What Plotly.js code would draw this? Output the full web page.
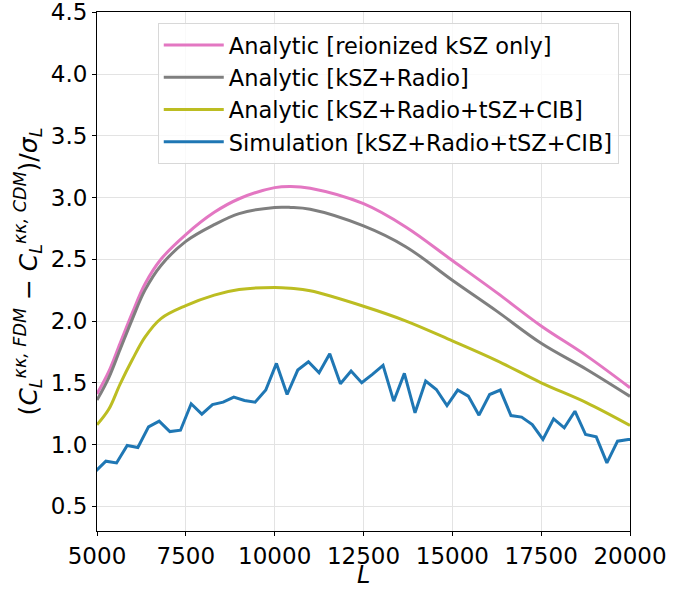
<!DOCTYPE html>
<html>
<head>
<meta charset="utf-8">
<script src="https://cdn.plot.ly/plotly-3.0.1.min.js"></script>
<style>html,body{margin:0;padding:0;background:#fff;}#chart{width:699px;height:589px;}</style>
</head>
<body>
<div id="chart"></div>
<script>
// Analytic curves
const analyticL = [5000, 5330, 5650, 6000, 6350, 6800, 7500, 8300, 9000, 10000, 10450, 11000, 12500, 13700, 15000, 16250, 17500, 18770, 20000];
const kszOnly   = [1.41, 1.59, 1.82, 2.07, 2.30, 2.50, 2.70, 2.88, 2.99, 3.08, 3.09, 3.075, 2.95, 2.76, 2.49, 2.23, 1.96, 1.72, 1.46];
const kszRadio  = [1.36, 1.54, 1.77, 2.02, 2.25, 2.45, 2.645, 2.78, 2.87, 2.92, 2.92, 2.905, 2.77, 2.60, 2.33, 2.08, 1.82, 1.61, 1.39];
const kszAll    = [1.16, 1.285, 1.49, 1.69, 1.87, 2.02, 2.125, 2.21, 2.255, 2.272, 2.265, 2.245, 2.12, 2.00, 1.84, 1.68, 1.50, 1.34, 1.155];

// Simulation points
const simL = [4950, 5250, 5550, 5850, 6150, 6450, 6750, 7050, 7350, 7650, 7950, 8250, 8550, 8850, 9150, 9450, 9750, 10050, 10350, 10650, 10950, 11250, 11550, 11850, 12150, 12450, 12750, 13050, 13350, 13650, 13950, 14250, 14550, 14850, 15150, 15450, 15750, 16050, 16350, 16650, 16950, 17250, 17550, 17850, 18150, 18450, 18750, 19050, 19350, 19650, 19950, 20250];
const simVals = [0.78, 0.865, 0.851, 0.992, 0.976, 1.143, 1.189, 1.105, 1.116, 1.330, 1.246, 1.324, 1.343, 1.384, 1.357, 1.343, 1.441, 1.657, 1.405, 1.603, 1.670, 1.581, 1.735, 1.492, 1.595, 1.500, 1.568, 1.641, 1.351, 1.576, 1.257, 1.514, 1.446, 1.316, 1.441, 1.392, 1.238, 1.405, 1.441, 1.235, 1.222, 1.162, 1.041, 1.208, 1.135, 1.270, 1.081, 1.062, 0.851, 1.027, 1.04, 1.05];

const names = ['Analytic [reionized kSZ only]', 'Analytic [kSZ+Radio]', 'Analytic [kSZ+Radio+tSZ+CIB]', 'Simulation [kSZ+Radio+tSZ+CIB]'];
const colors = ['#e377c2', '#7f7f7f', '#bcbd22', '#1f77b4'];

const traces = [
  {x: analyticL, y: kszOnly, name: names[0], line: {color: colors[0], width: 3, shape: 'spline', smoothing: 1}},
  {x: analyticL, y: kszRadio, name: names[1], line: {color: colors[1], width: 3, shape: 'spline', smoothing: 1}},
  {x: analyticL, y: kszAll, name: names[2], line: {color: colors[2], width: 3, shape: 'spline', smoothing: 1}},
  {x: simL, y: simVals, name: names[3], line: {color: colors[3], width: 3}}
].map(t => Object.assign({type: 'scatter', mode: 'lines'}, t));

const axisCommon = {
  showline: true, linecolor: '#000', linewidth: 1, mirror: true,
  showgrid: true, gridcolor: '#e3e3e3', gridwidth: 1,
  ticks: 'outside', ticklen: 4, tickwidth: 1, tickcolor: '#000',
  zeroline: false, automargin: false,
  ticklabeloverflow: 'allow',
  tickfont: {family: 'DejaVu Sans', size: 23, color: '#000'}
};

const layout = {
  width: 699, height: 589,
  margin: {l: 97, r: 69, t: 12, b: 58},
  paper_bgcolor: '#fff', plot_bgcolor: '#fff',
  font: {family: 'DejaVu Sans', color: '#000'},
  showlegend: true,
  legend: {
    x: 0.114, y: 0.979, xanchor: 'left', yanchor: 'top',
    bgcolor: 'rgba(255,255,255,0.8)', bordercolor: '#d8d8d8', borderwidth: 1,
    font: {family: 'DejaVu Sans', size: 22.5, color: '#000'},
    itemwidth: 60,
    tracegroupgap: 0
  },
  xaxis: Object.assign({}, axisCommon, {
    range: [5000, 20000],
    tickvals: [5000, 7500, 10000, 12500, 15000, 17500, 20000],
    ticktext: ['5000', '7500', '10000', '12500', '15000', '17500', '20000']
  }),
  yaxis: Object.assign({}, axisCommon, {
    range: [0.3, 4.502],
    tickvals: [0.5, 1.0, 1.5, 2.0, 2.5, 3.0, 3.5, 4.0, 4.5],
    ticktext: ['0.5', '1.0', '1.5', '2.0', '2.5', '3.0', '3.5', '4.0', '4.5'],
    title: {text: '(<i>C</i><sub><i>L</i></sub><sup><i>κκ, FDM</i></sup> − <i>C</i><sub><i>L</i></sub><sup><i>κκ, CDM</i></sup>)/<i>σ</i><sub><i>L</i></sub>', font: {family: 'DejaVu Sans', size: 25, color: '#000'}, standoff: 6}
  }),
  annotations: [{
    text: '<i>L</i>', xref: 'paper', yref: 'paper', x: 0.5, y: -0.1156,
    xanchor: 'center', yanchor: 'bottom', showarrow: false,
    font: {family: 'DejaVu Sans', size: 24, color: '#000'}
  }]
};

Plotly.newPlot('chart', traces, layout, {displayModeBar: false, staticPlot: true});
</script>
</body>
</html>
